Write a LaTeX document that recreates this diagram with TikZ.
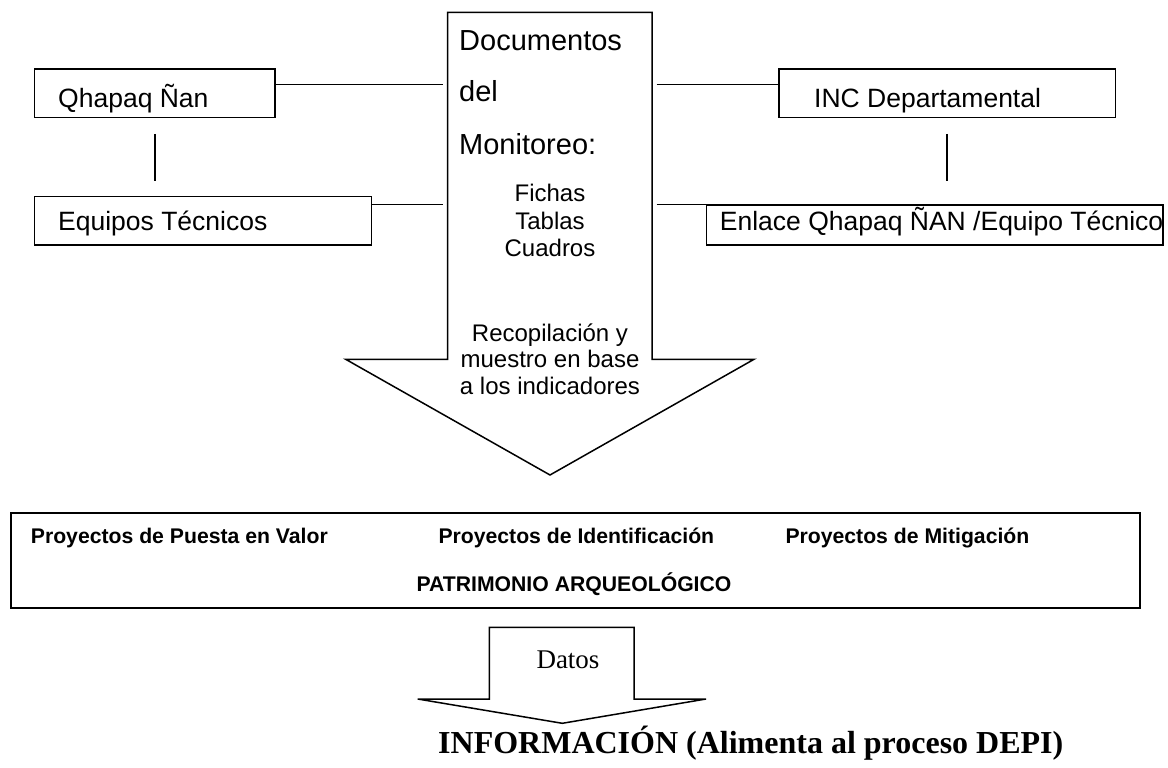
\documentclass[tikz,border=0pt]{standalone}
\usepackage{fontspec}
\setmainfont{Liberation Sans}
\newfontfamily\serifx{Liberation Serif}
\begin{document}
\begin{tikzpicture}[x=1pt,y=-1pt,line join=miter,
  box/.style={draw,line width=1.5pt,rectangle,inner sep=0pt,anchor=north west},
  conn/.style={line width=1.5pt},
  lblA/.style={inner sep=0pt,anchor=base west,font=\fontsize{26.5}{30}\selectfont},
  lblB/.style={inner sep=0pt,anchor=base west,font=\fontsize{29}{34}\selectfont},
  lblC/.style={inner sep=0pt,anchor=base,font=\fontsize{24}{28}\selectfont},
  lblD/.style={inner sep=0pt,anchor=base west,font=\fontsize{21.2}{25}\bfseries},
  bigarrow/.style={draw,line width=1.5pt}]
\useasboundingbox (0,0) rectangle (1168,768);

% side boxes
\node[box,minimum width=240.7pt,minimum height=48.4pt] (qn) at (33.7,68.3) {};
\node[box,minimum width=336.8pt,minimum height=48.3pt] (eq) at (33.7,195.7) {};
\node[box,minimum width=336.5pt,minimum height=48.4pt] (inc) at (778,68.3) {};
\node[box,minimum width=456.2pt,minimum height=40pt] (enl) at (705.8,204.3) {};
\node[lblA] (tqn) at (58,107.3) {Qhapaq Ñan};
\node[lblA] (teq) at (58,230) {Equipos Técnicos};
\node[lblA] (tinc) at (814,107.3) {INC Departamental};
\node[lblA] (tenl) at (719.7,230) {Enlace Qhapaq ÑAN /Equipo Técnico};

% big arrow
\coordinate (aTL) at (447.7,12.3);
\coordinate (aTR) at (652,12.3);
\coordinate (aRS) at (652,359.3);
\coordinate (aRW) at (754,359.3);
\coordinate (aTip) at (550,475);
\coordinate (aLW) at (345.7,359.3);
\coordinate (aLS) at (447.7,359.3);
\draw[bigarrow] (aTL) -- (aTR) -- (aRS) -- (aRW) -- (aTip) -- (aLW) -- (aLS) -- cycle;
\node[lblB] (d1) at (459,50.7) {Documentos};
\node[lblB] (d2) at (459,101) {del};
\node[lblB] (d3) at (459,154.3) {Monitoreo:};
\node[lblC] (f1) at (550,201.7) {Fichas};
\node[lblC] (f2) at (550,229.3) {Tablas};
\node[lblC] (f3) at (550,256.7) {Cuadros};
\node[lblC] (r1) at (550,341.7) {Recopilación y};
\node[lblC] (r2) at (550,367.7) {muestro en base};
\node[lblC] (r3) at (550,394.3) {a los indicadores};

% connectors
\coordinate (sL1) at (442.7,84.3);
\coordinate (sL2) at (442.7,204.3);
\coordinate (sR1) at (656.7,84.3);
\coordinate (sR2) at (656.7,204.3);
\draw[conn] (sL1 -| qn.east) -- (sL1);
\draw[conn] (sL2 -| eq.east) -- (sL2);
\draw[conn] (sR1) -- (sR1 -| inc.west);
\draw[conn] (sR2) -- (enl.north west);
\draw[conn,shorten <=15.6pt,shorten >=14.7pt] (qn.south) -- (qn.south |- eq.north);
\draw[conn,shorten <=15.6pt,shorten >=23.3pt] (inc.south) -- (inc.south |- enl.north);

% patrimonio box
\node[box,line width=2pt,minimum width=1128.7pt,minimum height=95.3pt] (pat) at (10,512) {};
\node[lblD] (p1) at (30.7,543.3) {Proyectos de Puesta en Valor};
\node[lblD] (p2) at (438.3,543.3) {Proyectos de Identificación};
\node[lblD] (p3) at (785.3,543.3) {Proyectos de Mitigación};
\node[lblD,anchor=base] (p4) at (574,591.7) {PATRIMONIO ARQUEOLÓGICO};

% datos arrow
\coordinate (bTL) at (489.3,627.3);
\coordinate (bTR) at (634,627.3);
\coordinate (bRS) at (634,699);
\coordinate (bRW) at (706,699);
\coordinate (bTip) at (562.3,723.3);
\coordinate (bLW) at (417.7,699);
\coordinate (bLS) at (489.3,699);
\draw[bigarrow] (bTL) -- (bTR) -- (bRS) -- (bRW) -- (bTip) -- (bLW) -- (bLS) -- cycle;
\node[inner sep=0pt,anchor=base,font=\serifx\fontsize{27}{30}\selectfont] (datos) at (568,668.3) {Datos};
\node[inner sep=0pt,anchor=base west,font=\serifx\fontsize{32}{37}\bfseries] (info) at (438,753.3) {INFORMACIÓN (Alimenta al proceso DEPI)};
\end{tikzpicture}
\end{document}
